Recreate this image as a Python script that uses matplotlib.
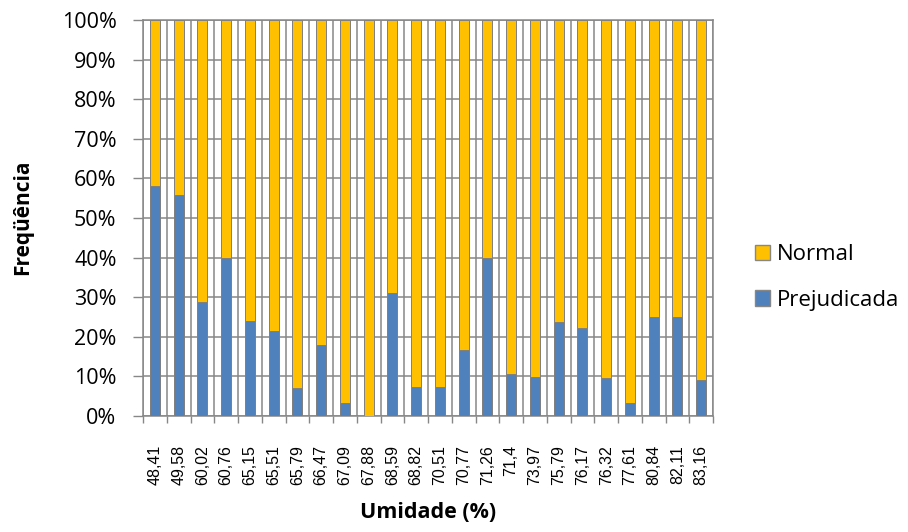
import matplotlib.pyplot as plt
from matplotlib.patches import Patch
from matplotlib.ticker import FixedLocator, PercentFormatter
import numpy as np

# DATA
umidade = ['48,41', '49,58', '60,02', '60,76', '65,15', '65,51', '65,79', '66,47',
           '67,09', '67,88', '68,59', '68,82', '70,51', '70,77', '71,26', '71,4',
           '73,97', '75,79', '76,17', '76,32', '77,61', '80,84', '82,11', '83,16']
prejudicada = [58.0, 55.8, 28.7, 40.0, 23.9, 21.5, 7.1, 18.0,
               3.3, 0.0, 31.0, 7.2, 7.2, 16.7, 40.0, 10.5,
               9.8, 23.8, 22.2, 9.5, 3.3, 25.1, 25.1, 9.1]
normal = [100 - p for p in prejudicada]

# STYLE
plt.rcParams['font.family'] = ['Open Sans', 'DejaVu Sans']
col_normal = '#FFC000'
col_prej = '#4F81BD'
grey = '#878787'

fig = plt.figure(figsize=(9.08, 5.32), dpi=100)
ax = fig.add_axes([143 / 908, 1 - 416 / 532, 570 / 908, 396 / 532])

x = np.arange(len(umidade))
w = 0.42
ax.bar(x, prejudicada, width=w, color=col_prej, edgecolor='#7f7f7f', linewidth=0.7, zorder=3)
ax.bar(x, normal, width=w, bottom=prejudicada, color=col_normal, edgecolor='#7f7f7f',
       linewidth=0.7, zorder=3)

ax.set_xlim(-0.5, len(umidade) - 0.5)
ax.set_ylim(0, 100)
ax.yaxis.set_major_locator(FixedLocator(np.arange(0, 101, 10)))
ax.yaxis.set_major_formatter(PercentFormatter(decimals=0))

ax.set_xticks(x)
ax.set_xticklabels(umidade, rotation=90, fontsize=11.5, fontfamily='Liberation Sans')
ax.xaxis.set_minor_locator(FixedLocator(np.arange(-0.5, len(umidade), 1)))
ax.tick_params(axis='x', which='major', length=0, pad=21)
ax.tick_params(axis='x', which='minor', length=5, width=1, color=grey)
ax.tick_params(axis='y', length=7, width=1, color=grey, pad=12, labelsize=15.5)

ax.grid(True, axis='y', which='major', color=grey, linewidth=1.1, zorder=0)
ax.grid(True, axis='x', which='minor', color=grey, linewidth=1.1, zorder=0)
for s in ax.spines.values():
    s.set_color(grey)
    s.set_linewidth(1.1)

fig.text(23 / 908, 1 - 217 / 532, 'Freqüência', rotation=90, ha='center', va='center',
         fontsize=15, fontweight='bold')
fig.text(428 / 908, 1 - 512 / 532, 'Umidade (%)', ha='center', va='center',
         fontsize=15.5, fontweight='bold')

handles = [Patch(facecolor=col_normal, edgecolor=grey, label='Normal'),
           Patch(facecolor=col_prej, edgecolor=grey, label='Prejudicada')]
fig.legend(handles=handles, loc='center left', bbox_to_anchor=(0.809, 0.478),
           frameon=False, fontsize=16, handlelength=0.7, handleheight=0.7,
           handletextpad=0.3, labelspacing=1.1)

plt.savefig('out.png', dpi=100)
